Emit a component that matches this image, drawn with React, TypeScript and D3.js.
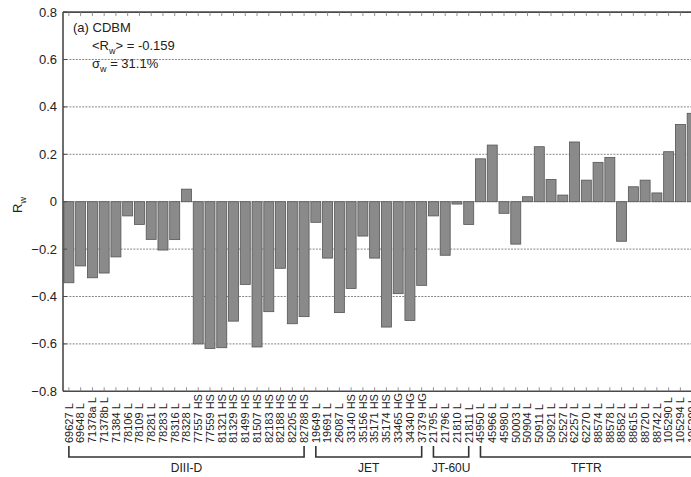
import React from "react";
import * as d3 from "d3";

// shot labels, in plotting order
const shots: string[] = [
    "69627 L", "69648 L", "71378a L", "71378b L", "71384 L", "78106 L", "78109 L", "78281 L", "78283 L", "78316 L",
    "78328 L", "77557 HS", "77559 HS", "81321 HS", "81329 HS", "81499 HS", "81507 HS", "82183 HS", "82188 HS", "82205 HS",
    "82788 HS",
    "19649 L", "19691 L", "26087 L", "33140 HS", "35156 HS", "35171 HS", "35174 HS", "33465 HG", "34340 HG", "37379 HG",
    "21795 L", "21796 L", "21810 L", "21811 L",
    "45950 L", "45966 L", "45980 L", "50003 L", "50904 L", "50911 L", "50921 L", "52527 L", "62257 L", "62270 L",
    "88574 L", "88578 L", "88582 L", "88615 L", "88720 L", "88742 L", "105290 L", "105294 L", "105299 L",
];

const rw: number[] = [
    -0.342, -0.271, -0.321, -0.301, -0.233, -0.060, -0.096, -0.159, -0.204, -0.160,
    0.053, -0.600, -0.619, -0.616, -0.504, -0.349, -0.613, -0.464, -0.281, -0.515,
    -0.485,
    -0.087, -0.238, -0.468, -0.366, -0.145, -0.238, -0.529, -0.388, -0.501, -0.353,
    -0.060, -0.226, -0.010, -0.096,
    0.181, 0.239, -0.049, -0.179, 0.021, 0.232, 0.094, 0.028, 0.252, 0.091,
    0.166, 0.187, -0.167, 0.063, 0.091, 0.037, 0.211, 0.326, 0.373,
];

const machines: string[] = ["DIII-D", "JET", "JT-60U", "TFTR"];
const machineSizes: number[] = [21, 10, 4, 19];

const yTicks: number[] = [-0.8, -0.6, -0.4, -0.2, 0, 0.2, 0.4, 0.6, 0.8];

const W = 691;
const H = 477;
const left = 63;
const step = 11.76;
const top = 12.1;
const bottom = 391.3;

const FONT = "'Liberation Sans', Arial, Helvetica, sans-serif";

export default function App() {
    const x = d3.scaleBand<number>()
        .domain(d3.range(shots.length))
        .range([left, left + shots.length * step])
        .paddingInner(0.15)
        .paddingOuter(0.075);
    const y = d3.scaleLinear().domain([-0.8, 0.8]).range([bottom, top]);
    const bw = x.bandwidth();
    const cx = (i: number) => (x(i) ?? 0) + bw / 2;

    // group bracket spans
    let start = 0;
    const groups = machines.map((name, k) => {
        const g = { name, first: start, last: start + machineSizes[k] - 1 };
        start += machineSizes[k];
        return g;
    });

    const brTop = 446;
    const brBot = 457;

    return (
        <div style={{ position: "fixed", left: 0, top: 0, width: W, height: H, overflow: "hidden", background: "#fff" }}>
            <svg width={W} height={H} style={{ display: "block", fontFamily: FONT }}>
                {/* gridlines */}
                {yTicks.filter(t => t > -0.8 && t < 0.8).map(t => (
                    <line key={"g" + t} x1={left} x2={W + 10} y1={y(t)} y2={y(t)}
                        stroke="#888" strokeWidth={1} strokeDasharray="2,1.2" />
                ))}

                {/* bars */}
                {rw.map((v, i) => (
                    <rect key={"b" + i} x={x(i)} width={bw}
                        y={v >= 0 ? y(v) : y(0)} height={Math.abs(y(v) - y(0))}
                        fill="#8a8a8a" stroke="#555" strokeWidth={0.8} />
                ))}

                {/* frame */}
                <line x1={left} x2={left} y1={top} y2={bottom} stroke="#4a4a4a" strokeWidth={1.6} />
                <line x1={left} x2={W + 10} y1={top} y2={top} stroke="#4a4a4a" strokeWidth={1.6} />
                <line x1={left} x2={W + 10} y1={bottom} y2={bottom} stroke="#4a4a4a" strokeWidth={1.6} />

                {/* top and bottom ticks at bar centres */}
                {shots.map((_, i) => (
                    <g key={"t" + i} stroke="#777" strokeWidth={0.8}>
                        <line x1={cx(i)} x2={cx(i)} y1={top} y2={top + 4} />
                        <line x1={cx(i)} x2={cx(i)} y1={bottom} y2={bottom - 4} />
                    </g>
                ))}

                {/* y ticks and labels */}
                {yTicks.map(t => (
                    <g key={"y" + t}>
                        <line x1={left} x2={left + 4} y1={y(t)} y2={y(t)} stroke="#4a4a4a" strokeWidth={1} />
                        <text x={57} y={y(t)} dy="0.35em" textAnchor="end" fontSize={13} fill="#222">
                            {t === 0 ? "0" : d3.format(".1f")(t)}
                        </text>
                    </g>
                ))}

                {/* y axis title */}
                <text transform={`translate(22,205) rotate(-90)`} textAnchor="middle" fontSize={13} fill="#222">
                    R<tspan dy="4" fontSize={9}>w</tspan>
                </text>

                {/* annotation */}
                <text x={73} y={32} fontSize={13} fill="#222">(a) CDBM</text>
                <text x={92} y={50} fontSize={13} fill="#222">
                    {"<R"}<tspan dy="4" fontSize={9}>w</tspan><tspan dy="-4">{"> = -0.159"}</tspan>
                </text>
                <text x={92} y={68} fontSize={13} fill="#222">
                    {"σ"}<tspan dy="4" fontSize={9}>w</tspan><tspan dy="-4">{" = 31.1%"}</tspan>
                </text>

                {/* shot labels, bottom aligned */}
                {shots.map((s, i) => (
                    <text key={"l" + i} transform={`translate(${cx(i)},443) rotate(-90)`}
                        dy="0.35em" textAnchor="start" fontSize={11} fill="#222">
                        {s}
                    </text>
                ))}

                {/* machine brackets */}
                {groups.map(g => {
                    const x1 = cx(g.first);
                    const x2 = cx(g.last);
                    return (
                        <g key={g.name}>
                            <path d={`M${x1},${brTop}V${brBot}H${x2}V${brTop}`} fill="none" stroke="#333" strokeWidth={1.6} />
                            <text x={(x1 + x2) / 2} y={472} textAnchor="middle" fontSize={12} fill="#222">{g.name}</text>
                        </g>
                    );
                })}
            </svg>
        </div>
    );
}
